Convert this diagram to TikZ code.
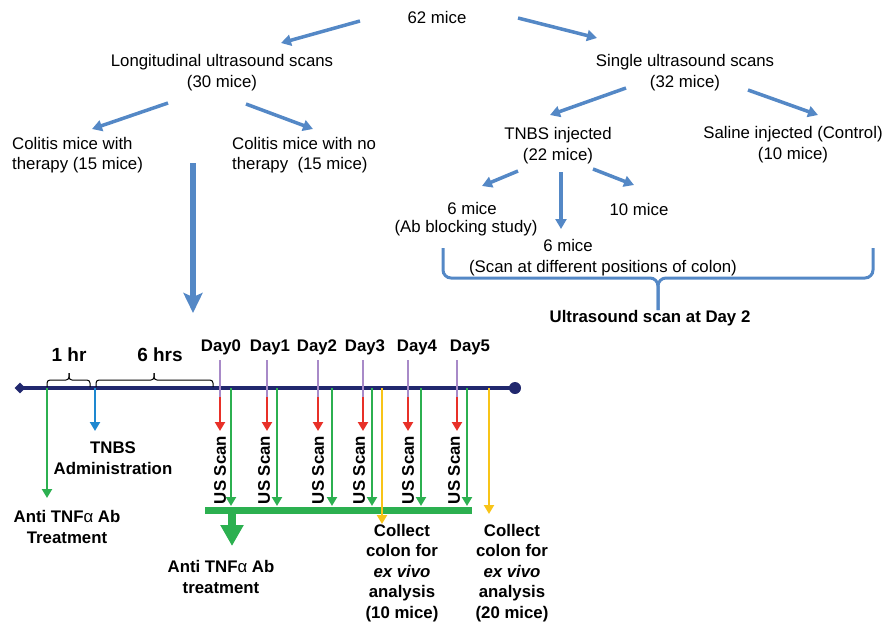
\documentclass[tikz,border=0pt]{standalone}
\usepackage{fontspec}
\setmainfont{Liberation Sans}
\usetikzlibrary{arrows.meta,shapes.geometric}
\definecolor{ablue}{RGB}{84,136,198}
\definecolor{navy}{RGB}{33,40,110}
\definecolor{tpurple}{RGB}{168,138,200}
\definecolor{tred}{RGB}{232,48,40}
\definecolor{tgreen}{RGB}{44,176,80}
\definecolor{tyellow}{RGB}{248,196,24}
\definecolor{tblue}{RGB}{30,136,208}
\begin{document}
\begin{tikzpicture}[x=1pt,y=-1pt,
  reg/.style={inner sep=0pt, font=\fontsize{16.8}{21}\selectfont, align=center},
  regl/.style={inner sep=0pt, font=\fontsize{16.8}{20}\selectfont, align=left},
  bld/.style={inner sep=0pt, font=\fontsize{16.8}{20.5}\selectfont\bfseries, align=center},
  bigb/.style={inner sep=0pt, font=\fontsize{19}{22}\selectfont\bfseries},
  barrow/.style={draw=ablue, line width=3.5pt, -{Triangle[length=10pt,width=11pt]}},
  thin/.style={line width=2.6pt},
  tarrow/.style={line width=2.6pt, -{Triangle[length=9pt,width=10pt]}},
  tbrace/.style={line width=1pt, rounded corners=3pt}
]
\useasboundingbox (0,0) rectangle (895,624);

% ---- top tree ----
\node[reg] (root) at (437,17) {62 mice};
\node[reg] (long) at (222,73) {Longitudinal ultrasound scans\\(30 mice)};
\node[reg] (single) at (685,73) {Single ultrasound scans\\(32 mice)};
\node[regl, anchor=west] (colA) at (12,155) {Colitis mice with\\therapy (15 mice)};
\node[regl, anchor=west] (colB) at (232,155) {Colitis mice with no\\therapy~~(15 mice)};
\node[reg] (tnbs) at (558,146) {TNBS injected\\(22 mice)};
\node[reg] (saline) at (793,145) {Saline injected (Control)\\(10 mice)};
\node[reg] (m6a) at (472,208) {6 mice};
\node[reg] (m6ab) at (466,228) {(Ab blocking study)};
\node[reg] (m10) at (639,209) {10 mice};
\node[reg] (m6b) at (568,245) {6 mice};
\node[reg] (m6bb) at (603,268) {(Scan at different positions of colon)};
\node[bld] (us2) at (650,318) {Ultrasound scan at Day 2};

\coordinate (a1s) at (360,21); \coordinate (a1e) at (281,43);
\coordinate (a2s) at (518,18); \coordinate (a2e) at (597,38);
\coordinate (a3s) at (168,103); \coordinate (a3e) at (92,129);
\coordinate (a4s) at (246,104); \coordinate (a4e) at (313,129);
\coordinate (a5s) at (626,88); \coordinate (a5e) at (550,115);
\coordinate (a6s) at (748,90); \coordinate (a6e) at (818,115);
\coordinate (a7s) at (518,171); \coordinate (a7e) at (482,186);
\coordinate (a8s) at (561,172); \coordinate (a8e) at (561,229);
\coordinate (a9s) at (593,169); \coordinate (a9e) at (634,185);
\draw[barrow] (a1s) -- (a1e);
\draw[barrow] (a2s) -- (a2e);
\draw[barrow] (a3s) -- (a3e);
\draw[barrow] (a4s) -- (a4e);
\draw[barrow] (a5s) -- (a5e);
\draw[barrow] (a6s) -- (a6e);
\draw[barrow] (a7s) -- (a7e);
\draw[barrow] (a8s) -- (a8e);
\draw[barrow] (a9s) -- (a9e);

% big blue down arrow
\coordinate (bbs) at (193,163); \coordinate (bbe) at (193,313);
\draw[draw=ablue, line width=6pt, -{Stealth[length=20pt,width=19pt,inset=4pt]}] (bbs) -- (bbe);

% brace under the single-scan groups
\coordinate (brL) at (443,248); \coordinate (brR) at (873,248); \coordinate (brT) at (658,310);
\draw[ablue, line width=3pt, rounded corners=8pt]
  (brL) -- (443,278) -- (658,278) -- (brT);
\draw[ablue, line width=3pt, rounded corners=8pt]
  (brR) -- (873,278) -- (658,278) -- (brT);

% ---- timeline ----
\coordinate (tl0) at (20,388);
\coordinate (tl1) at (515,388);
\draw[navy, line width=3.2pt] (tl0) -- (tl1);
\node[diamond, fill=navy, inner sep=0pt, minimum size=11pt] (dia) at (tl0) {};
\node[circle, fill=navy, inner sep=0pt, minimum size=12pt] (dot) at (tl1) {};

% braces
\draw[tbrace] (47,387) -- (47,380) -- (69,380) -- (69,373);
\draw[tbrace] (90,387) -- (90,380) -- (69,380) -- (69,373);
\draw[tbrace] (96,387) -- (96,380) -- (154,380) -- (154,373);
\draw[tbrace] (213,387) -- (213,380) -- (154,380) -- (154,373);
\node[bigb] (hr1) at (69,355) {1 hr};
\node[bigb] (hr6) at (160,355) {6 hrs};

% anti TNF first arrow
\coordinate (g0s) at (47,388); \coordinate (g0e) at (47,498);
\draw[tgreen, tarrow] (g0s) -- (g0e);
\node[bld] (anti1) at (67,527) {Anti TNF{\mdseries α} Ab\\Treatment};
% TNBS administration
\coordinate (b0s) at (95,388); \coordinate (b0e) at (95,431);
\draw[tblue, tarrow] (b0s) -- (b0e);
\node[bld] (tnbsadm) at (113,458) {TNBS\\Administration};

% days
\foreach \n/\px/\lx/\gx/\ux in {0/220/221/231/220, 1/267/270/277/264, 2/318/317/332/318, 3/363/365/372/359, 4/408/417/421/408, 5/457/470/467/454}{
  \node[bld] (day\n) at (\lx,347) {Day\n};
  \coordinate (p\n) at (\px,360);
  \coordinate (r\n) at (\px,397);
  \coordinate (re\n) at (\px,431);
  \draw[tpurple, thin] (p\n) -- (r\n);
  \draw[tred, tarrow] (r\n) -- (re\n);
  \node[bld, rotate=90] (us\n) at (\ux,470) {US Scan};
  \coordinate (gs\n) at (\gx,388);
  \coordinate (ge\n) at (\gx,506);
  \draw[tgreen, tarrow] (gs\n) -- (ge\n);
}

% green bar and big green arrow
\coordinate (bar0) at (205,510); \coordinate (bar1) at (472,510);
\draw[tgreen, line width=7pt] (bar0) -- (bar1);
\coordinate (bgs) at (232,510); \coordinate (bge) at (232,546);
\draw[tgreen, line width=8pt, -{Triangle[length=21pt,width=22pt]}] (bgs) -- (bge);
\node[bld] (anti2) at (221,577) {Anti TNF{\mdseries α} Ab\\treatment};

% yellow arrows
\coordinate (y1s) at (382,388); \coordinate (y1e) at (382,524);
\coordinate (y2s) at (489,388); \coordinate (y2e) at (489,514);
\draw[tyellow, tarrow] (y1s) -- (y1e);
\draw[tyellow, tarrow] (y2s) -- (y2e);
\node[bld] (coll1) at (402,573) {Collect\\colon for\\\textit{ex vivo}\\analysis\\(10 mice)};
\node[bld] (coll2) at (512,573) {Collect\\colon for\\\textit{ex vivo}\\analysis\\(20 mice)};
\end{tikzpicture}
\end{document}
